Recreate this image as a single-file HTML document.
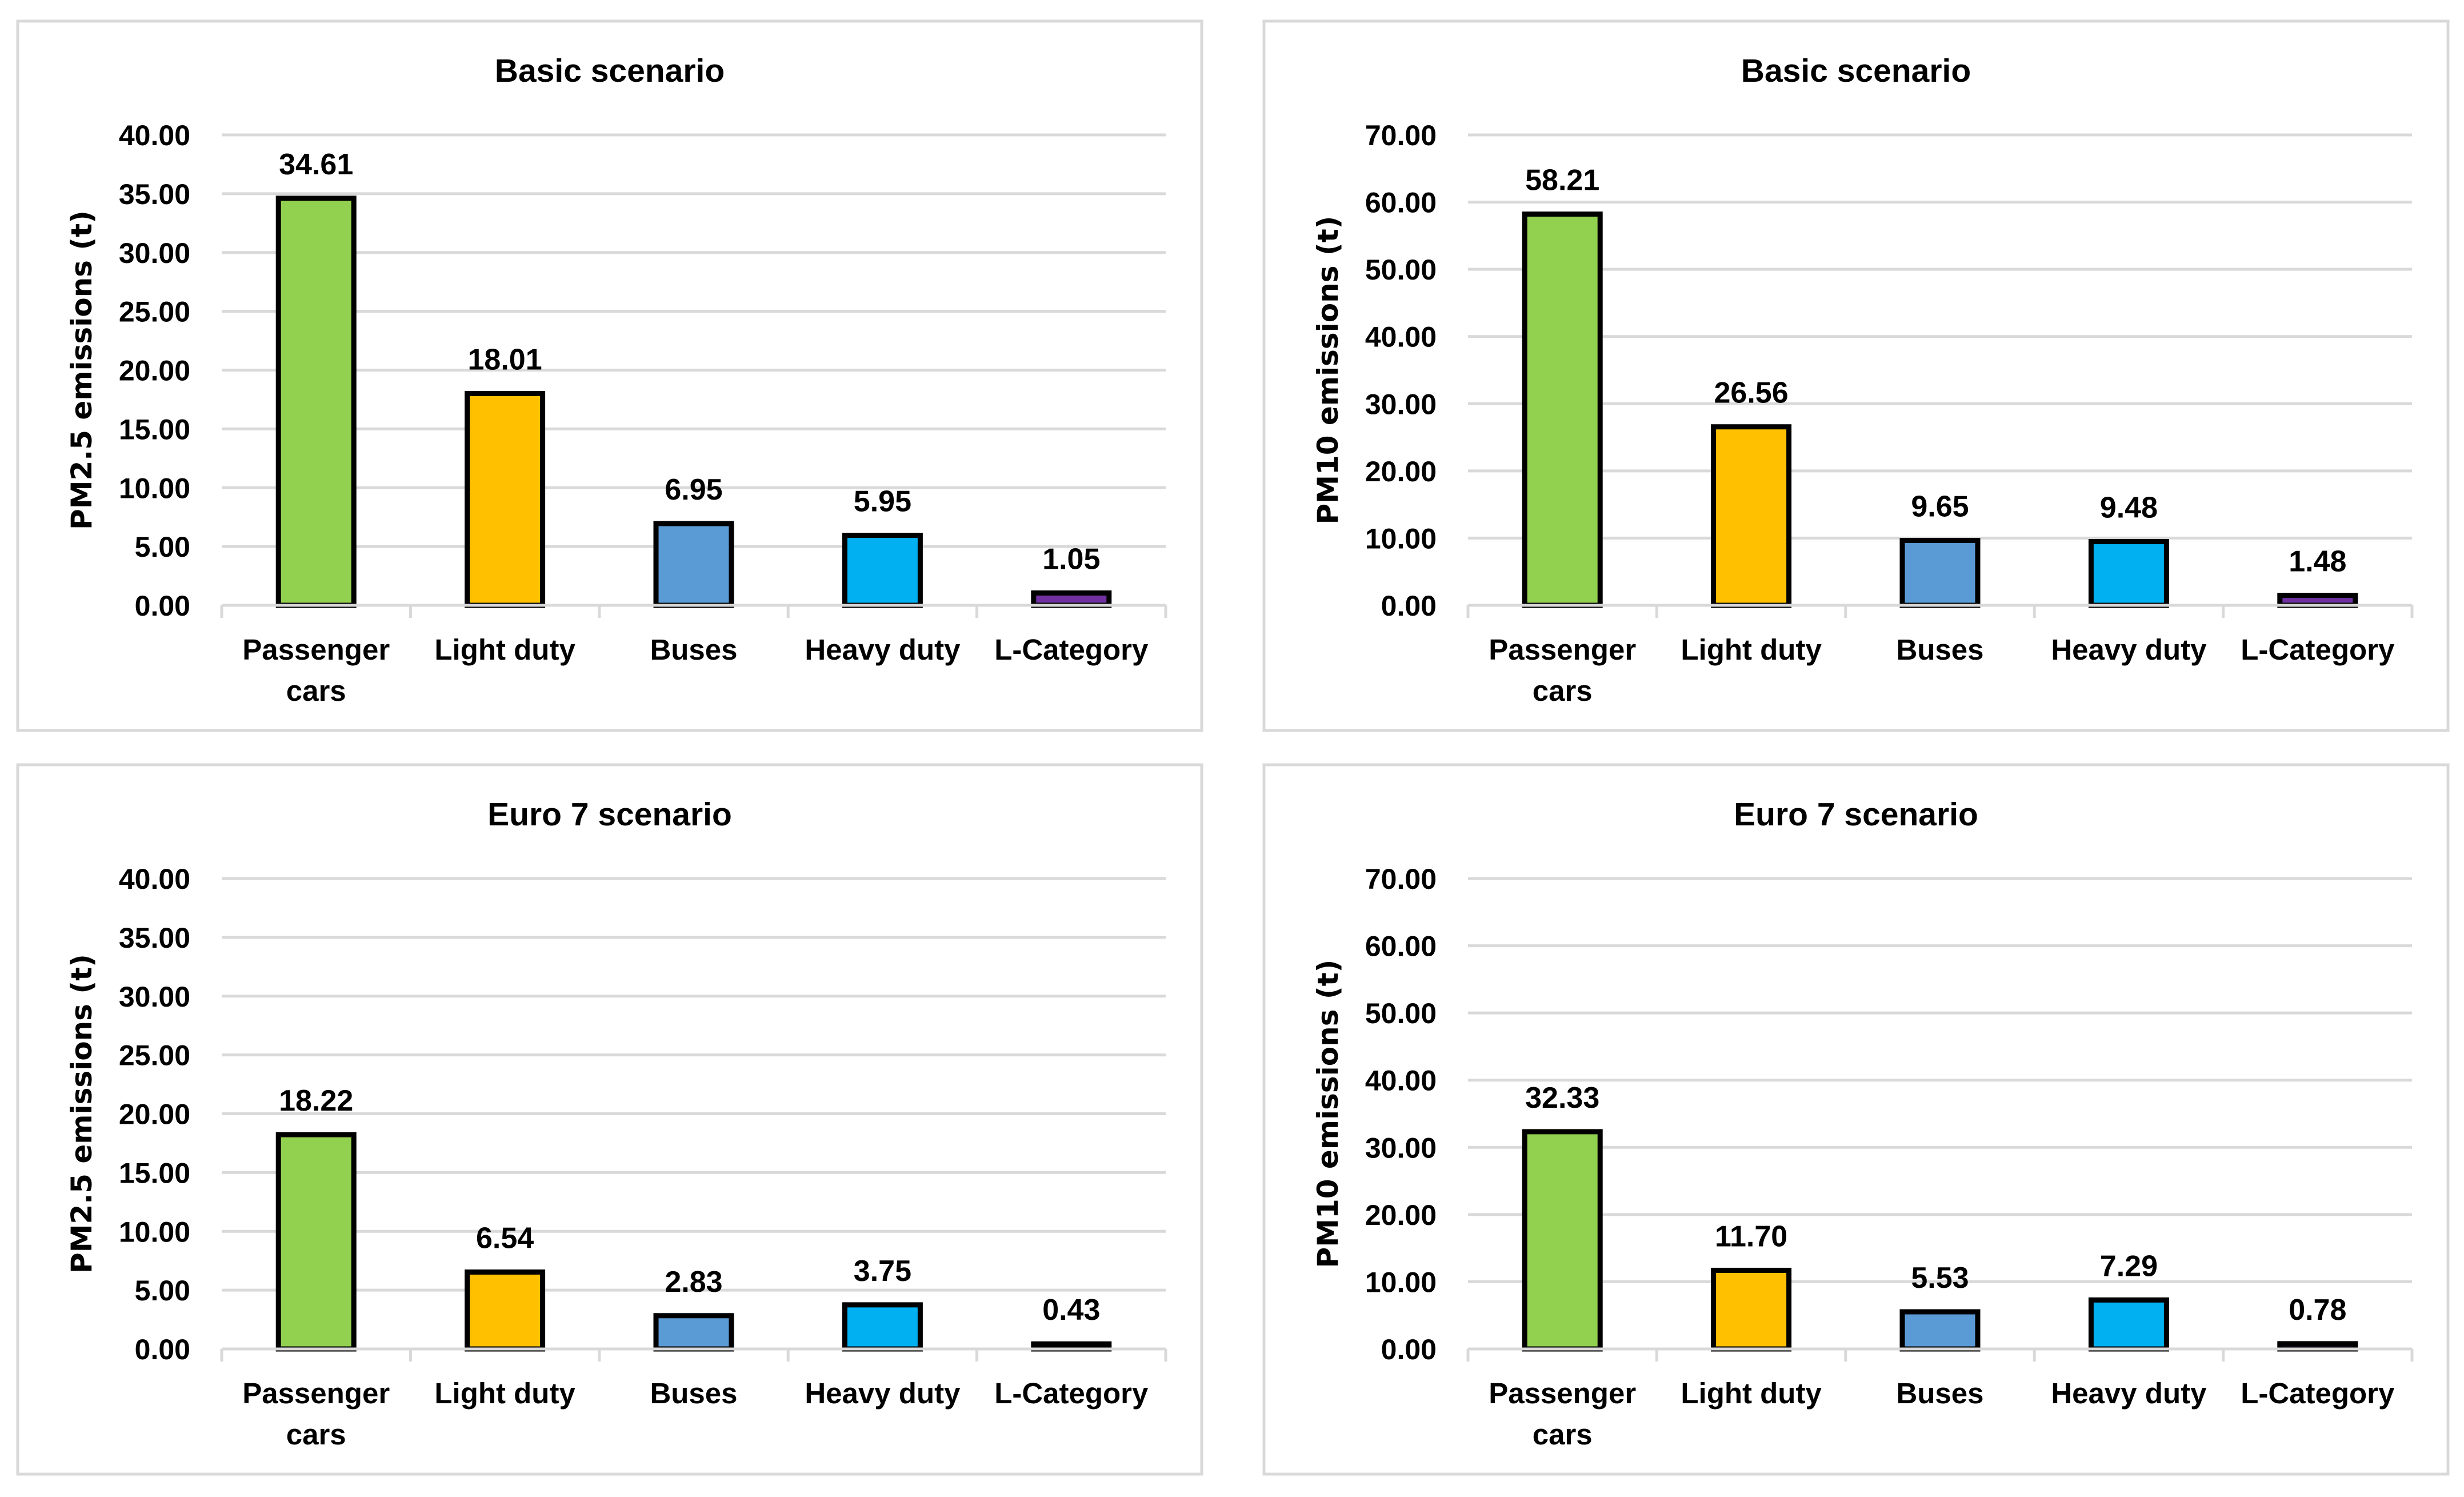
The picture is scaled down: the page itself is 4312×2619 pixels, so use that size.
<!DOCTYPE html>
<html><head><meta charset="utf-8"><style>
html,body{margin:0;padding:0;background:#fff;}
svg{display:block;}
text{font-family:"Liberation Sans",sans-serif;font-weight:bold;fill:#000;}
</style></head><body>
<svg id="chart" width="4312" height="2619" viewBox="0 0 4312 2619" xmlns="http://www.w3.org/2000/svg"></svg>
<script>
const categories = ["Passenger|cars","Light duty","Buses","Heavy duty","L-Category"];
const colors = ["#92d050","#ffc000","#5b9bd5","#00b0f0","#7030a0"];
const pm25Basic = [34.61,18.01,6.95,5.95,1.05];
const pm10Basic = [58.21,26.56,9.65,9.48,1.48];
const pm25Euro7 = [18.22,6.54,2.83,3.75,0.43];
const pm10Euro7 = [32.33,11.70,5.53,7.29,0.78];
const pm25Ticks = [0,5,10,15,20,25,30,35,40];
const pm10Ticks = [0,10,20,30,40,50,60,70];
const titles = ["Basic scenario","Basic scenario","Euro 7 scenario","Euro 7 scenario"];
const yTitles = ["PM2.5 emissions (t)","PM10 emissions (t)","PM2.5 emissions (t)","PM10 emissions (t)"];

const NS="http://www.w3.org/2000/svg";
const svg=document.getElementById('chart');
function mk(tag,attrs,parent){const e=document.createElementNS(NS,tag);for(const k in attrs)e.setAttribute(k,attrs[k]);(parent||svg).appendChild(e);return e;}

const panels=[
 {dx:0,dy:0,vals:pm25Basic,ticks:pm25Ticks,name:"pm25-basic"},
 {dx:2181,dy:0,vals:pm10Basic,ticks:pm10Ticks,name:"pm10-basic"},
 {dx:0,dy:1301,vals:pm25Euro7,ticks:pm25Ticks,name:"pm25-euro7"},
 {dx:2181,dy:1301,vals:pm10Euro7,ticks:pm10Ticks,name:"pm10-euro7"}
];
panels.forEach((p,pi)=>{
  const g=mk('g',{transform:`translate(${p.dx},${p.dy})`});
  
  
  const fr=mk('rect',{x:31,y:37,width:2072,height:1241,fill:'#fff',stroke:'#d9d9d9','stroke-width':5},g);
  
  
  const x0=388,x1=2040,yb=1059,yt=236;
  const maxV=p.ticks[p.ticks.length-1];
  const ys=v=>yb-(v/maxV)*(yb-yt);
  const step=(x1-x0)/categories.length;
  const xc=i=>x0+step*(i+0.5);
  const t=mk('text',{x:1067,y:143,'font-size':57,'text-anchor':'middle'},g);
  t.textContent=titles[pi];
  
  
  p.ticks.forEach(v=>{
    const l=mk('line',{x1:x0,x2:x1,y1:ys(v),y2:ys(v),stroke:'#d9d9d9','stroke-width':5},g);
    
    
    const tx=mk('text',{x:333,y:ys(v)+18,'font-size':50,'text-anchor':'end'},g);
    tx.textContent=v.toFixed(2);
    
    
  });
  for(let i=0;i<=categories.length;i++){
    const tk=mk('line',{x1:x0+step*i,x2:x0+step*i,y1:yb,y2:yb+22,stroke:'#d9d9d9','stroke-width':5},g);
    
    
  }
  const yt2=mk('text',{transform:`translate(160,${(yb+yt)/2}) rotate(-90)`,'font-size':50,'text-anchor':'middle','style':'font-family:"DejaVu Sans",sans-serif'},g);
  yt2.textContent=yTitles[pi];
  
  
  const bw=132;
  p.vals.forEach((v,i)=>{
    const y=ys(v);
    const b=mk('rect',{x:xc(i)-bw/2,y:y,width:bw,height:Math.max(yb-y,1),fill:colors[i],stroke:'#000','stroke-width':9},g);
    
    
    const lab=mk('text',{x:xc(i),y:y-42,'font-size':52,'text-anchor':'middle'},g);
    lab.textContent=v.toFixed(2);
    
    
    const parts=categories[i].split('|');
    parts.forEach((s,k)=>{
      const c=mk('text',{x:xc(i),y:1154+k*72,'font-size':51,'text-anchor':'middle'},g);
      c.textContent=s;
      
      
    });
  });
  const ax=mk('line',{x1:x0,x2:x1,y1:yb,y2:yb,stroke:'#d9d9d9','stroke-width':5},g);
  
  
});
</script>
</body></html>
